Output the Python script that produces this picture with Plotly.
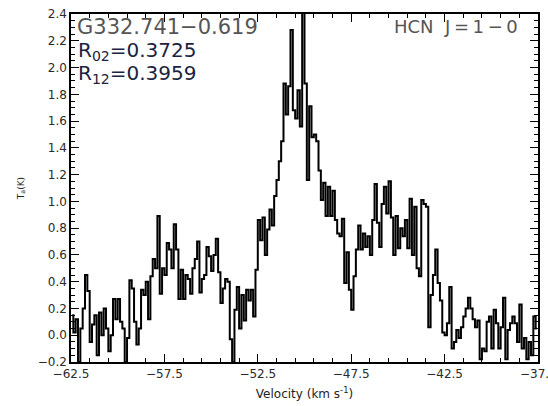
import numpy as np
import plotly.graph_objects as go

# Spectral channel grid (km/s)
v_start = -62.5
channel_width = 0.125

# Antenna temperature T_a (K) per channel
t_a = [
    0.15, 0.02, 0.12, -0.20, 0.05, 0.20, 0.45, 0.33, -0.05, 0.08,
    0.15, -0.15, 0.17, 0.00, 0.20, 0.05, -0.12, 0.00, 0.27, 0.12,
    0.27, 0.10, 0.05, -0.20, -0.02, 0.41, 0.35, 0.10, -0.07, 0.05,
    0.34, 0.30, 0.40, 0.12, 0.44, 0.57, 0.50, 0.89, 0.31, 0.50,
    0.45, 0.69, 0.64, 0.50, 0.83, 0.64, 0.27, 0.49, 0.27, 0.45,
    0.42, 0.31, 0.50, 0.57, 0.70, 0.32, 0.42, 0.45, 0.66, 0.59,
    0.48, 0.60, 0.72, 0.47, 0.24, 0.35, 0.42, 0.40, -0.03, -0.20,
    0.19, 0.36, 0.05, 0.30, 0.11, 0.34, 0.26, 0.34, 0.14, 0.49,
    0.86, 0.71, 0.88, 0.60, 0.79, 0.94, 0.82, 1.04, 1.16, 1.30,
    1.45, 1.88, 1.65, 1.86, 2.28, 1.68, 1.62, 1.83, 1.56, 2.60,
    1.88, 1.16, 1.71, 1.48, 1.50, 1.45, 1.23, 1.01, 1.14, 0.89,
    1.11, 0.89, 1.08, 0.86, 0.76, 0.74, 0.87, 0.39, 0.62, 0.34,
    0.19, 0.44, 0.64, 0.82, 0.64, 0.76, 0.66, 0.74, 0.60, 0.86,
    1.13, 0.84, 0.66, 0.98, 1.11, 0.91, 1.15, 0.88, 0.60, 0.89,
    0.65, 0.80, 0.74, 0.86, 0.65, 1.02, 0.60, 0.96, 0.50, 0.44,
    1.01, 0.98, 0.96, 0.06, 0.30, 0.45, 0.64, 0.39, 0.26, 0.02,
    0.00, 0.09, 0.36, -0.10, -0.05, 0.04, -0.02, 0.06, 0.14, 0.20,
    0.28, 0.20, 0.12, 0.06, 0.11, -0.18, -0.10, -0.12, 0.10, 0.14,
    -0.10, 0.19, 0.09, -0.10, 0.06, 0.28, -0.18, 0.04, 0.09, 0.14,
    0.09, -0.05, 0.23, -0.10, -0.02, -0.18, -0.05, -0.15, 0.14, 0.05,
]

velocity = v_start + channel_width * (np.arange(len(t_a)) + 0.5)

x_ticks = [-62.5, -57.5, -52.5, -47.5, -42.5, -37.5]
y_ticks = [-0.2, 0.0, 0.2, 0.4, 0.6, 0.8, 1.0, 1.2, 1.4, 1.6, 1.8, 2.0, 2.2, 2.4]

source_name = "G332.741\u22120.619"
line_name = "HCN  J\u2009=\u20091\u2009\u2212\u20090"
ratio_labels = ["R<sub>02</sub>=0.3725", "R<sub>12</sub>=0.3959"]

FONT = "DejaVu Sans"
TICK_FONT = dict(family=FONT, size=12, color="#2a2a2a")


def fmt(t):
    return f"{t:.1f}".replace("-", "\u2212")


fig = go.Figure()
fig.add_trace(go.Scatter(
    x=velocity, y=t_a, mode="lines",
    line=dict(color="black", width=2, shape="hvh"),
    showlegend=False, hoverinfo="skip",
))

axis_common = dict(
    showline=True, linecolor="black", linewidth=1.5,
    mirror="allticks", ticks="inside", ticklen=8, tickwidth=1.3,
    tickcolor="black", showgrid=False, zeroline=False,
    tickfont=TICK_FONT, automargin=False,
)

# The last x label sits on the right frame edge; it is drawn as an
# annotation so it is not dropped for running past the page edge.
fig.update_xaxes(
    range=[-62.5, -37.5], tickvals=x_ticks,
    ticktext=[fmt(t) if t != x_ticks[-1] else "" for t in x_ticks],
    minor=dict(dtick=1, tick0=-62.5, ticklen=4, ticks="inside", tickcolor="black", tickwidth=1.2),
    title=dict(text="Velocity (km s<sup>-1</sup>)", font=dict(family=FONT, size=12, color="#222222"), standoff=9),
    **axis_common,
)
fig.update_yaxes(
    range=[-0.2, 2.4], tickvals=y_ticks,
    ticktext=[fmt(t) for t in y_ticks],
    minor=dict(dtick=0.05, tick0=0, ticklen=4, ticks="inside", tickcolor="black", tickwidth=1.2),
    title=dict(text="T<sub>a</sub>(K)", font=dict(family=FONT, size=9, color="#222222"), standoff=12),
    **axis_common,
)

fig.add_annotation(
    x=x_ticks[-1], y=0, xref="x", yref="paper", text=fmt(x_ticks[-1]),
    showarrow=False, xanchor="center", yanchor="top", yshift=-3,
    font=TICK_FONT,
)

fig.update_layout(
    width=548, height=406,
    margin=dict(l=71, r=10, t=14, b=44),
    paper_bgcolor="white", plot_bgcolor="white",
)

# Text placed in pixel-derived paper coordinates
plot_h = 406 - 14 - 44


def paper_y(py):
    return 1 - (py - 14) / plot_h


fig.add_annotation(
    x=0.0, y=paper_y(27), xref="paper", yref="paper", text=source_name,
    showarrow=False, xanchor="left", yanchor="middle", xshift=4,
    font=dict(family=FONT, size=21, color="#555555"),
)
for label, py in zip(ratio_labels, [51, 74]):
    fig.add_annotation(
        x=0.0, y=paper_y(py), xref="paper", yref="paper", text=label,
        showarrow=False, xanchor="left", yanchor="middle", xshift=5,
        font=dict(family=FONT, size=20, color="#1c2340"),
    )
fig.add_annotation(
    x=1.0, y=paper_y(27), xref="paper", yref="paper", text=line_name,
    showarrow=False, xanchor="right", yanchor="middle", xshift=-18,
    font=dict(family=FONT, size=18, color="#555555"),
)

fig.write_html("out.html")
